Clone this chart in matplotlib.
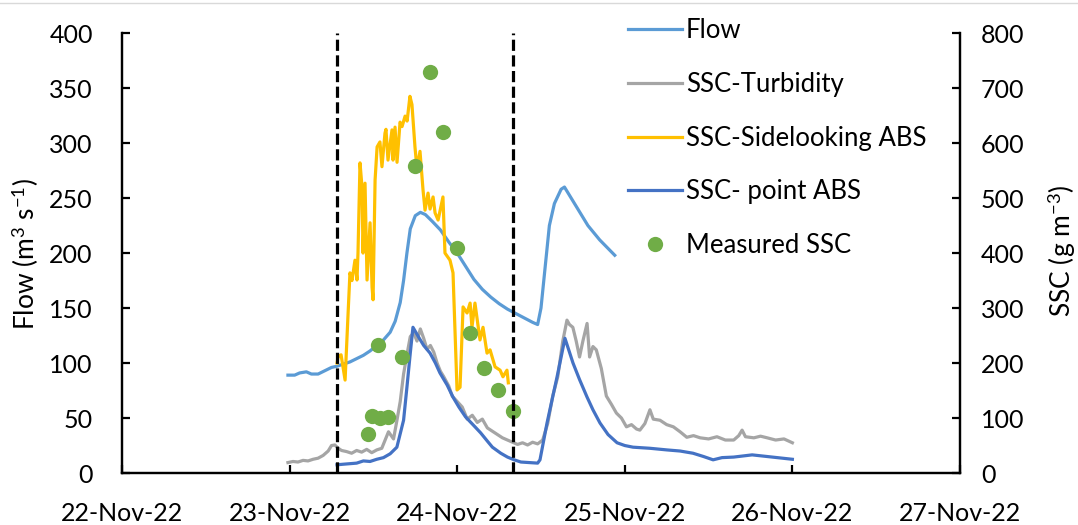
import matplotlib.pyplot as plt
from matplotlib.lines import Line2D

plt.rcParams['font.family'] = ['Lato', 'DejaVu Sans']
plt.rcParams['mathtext.fontset'] = 'custom'
plt.rcParams['mathtext.rm'] = 'Lato'
plt.rcParams['mathtext.it'] = 'Lato:italic'
plt.rcParams['mathtext.bf'] = 'Lato:bold'

# time axis in days of November 2022
flow_t = [22.99, 23.03, 23.06, 23.10, 23.13, 23.17, 23.21, 23.25, 23.28, 23.32, 23.36, 23.40,
          23.44, 23.48, 23.52, 23.56, 23.60, 23.63, 23.66, 23.68, 23.70, 23.72, 23.75, 23.78,
          23.81, 23.85, 23.90, 23.95, 24.00, 24.05, 24.10, 24.15, 24.20, 24.25, 24.30, 24.35,
          24.40, 24.45, 24.48, 24.50, 24.52, 24.55, 24.58, 24.62, 24.64, 24.68, 24.72, 24.78,
          24.85, 24.94]
flow = [89, 89, 91, 92, 90, 90, 93, 96, 97, 99, 101, 104,
        107, 111, 116, 121, 128, 138, 155, 175, 200, 222, 234, 237,
        235, 229, 221, 210, 200, 188, 176, 167, 160, 154, 149, 145,
        141, 137, 135, 150, 180, 225, 245, 258, 260, 250, 240, 225,
        212, 198]

turb_t = [22.99, 23.02, 23.05, 23.08, 23.11, 23.14, 23.17, 23.20, 23.23, 23.25, 23.27, 23.29,
          23.31, 23.34, 23.37, 23.40, 23.43, 23.46, 23.49, 23.52, 23.55, 23.57, 23.59, 23.62,
          23.64, 23.66, 23.68, 23.70, 23.72, 23.74, 23.76, 23.78, 23.80, 23.82, 23.84, 23.86,
          23.88, 23.90, 23.92, 23.95, 23.97, 24.00, 24.03, 24.06, 24.09, 24.12, 24.15, 24.18,
          24.21, 24.24, 24.27, 24.30, 24.33, 24.36, 24.39, 24.42, 24.45, 24.48, 24.51, 24.54,
          24.57, 24.60, 24.63, 24.655, 24.67, 24.69, 24.71, 24.73, 24.75, 24.775, 24.79, 24.81,
          24.83, 24.86, 24.89, 24.92, 24.95, 24.98, 25.01, 25.04, 25.07, 25.09, 25.12, 25.15,
          25.17, 25.21, 25.25, 25.29, 25.33, 25.37, 25.41, 25.45, 25.50, 25.55, 25.60, 25.65,
          25.68, 25.70, 25.72, 25.77, 25.81, 25.85, 25.90, 25.95, 26.00]
turb = [19, 21, 20, 23, 22, 25, 27, 32, 40, 50, 51, 45,
        41, 39, 36, 41, 38, 43, 37, 42, 45, 60, 75, 62,
        95, 130, 180, 215, 248, 255, 240, 262, 245, 225, 232, 220,
        200, 185, 175, 158, 140, 130, 120, 98, 105, 92, 98, 82,
        76, 70, 64, 60, 56, 52, 55, 51, 56, 53, 60, 90,
        140, 175, 240, 278, 270, 265, 240, 211, 240, 272, 211, 230,
        224, 190, 140, 125, 109, 100, 84, 88, 80, 78, 90, 115,
        98, 96, 88, 84, 75, 65, 68, 64, 62, 66, 60, 60,
        68, 78, 66, 64, 67, 64, 60, 62, 55]

side_t = [23.283, 23.289, 23.307, 23.331, 23.349, 23.360, 23.372, 23.390, 23.402, 23.408,
          23.420, 23.432, 23.438, 23.450, 23.462, 23.480, 23.492, 23.498, 23.510, 23.522,
          23.539, 23.551, 23.569, 23.575, 23.587, 23.611, 23.617, 23.629, 23.641, 23.659,
          23.671, 23.689, 23.701, 23.718, 23.730, 23.748, 23.760, 23.778, 23.796, 23.808,
          23.826, 23.838, 23.856, 23.868, 23.886, 23.915, 23.927, 23.957, 23.975, 23.999,
          24.017, 24.035, 24.059, 24.077, 24.088, 24.106, 24.136, 24.154, 24.178, 24.196,
          24.226, 24.256, 24.273, 24.297, 24.305]
side = [200, 211, 215, 169, 291, 364, 350, 387, 351, 400,
        564, 520, 400, 527, 351, 455, 338, 315, 533, 593,
        602, 557, 618, 625, 569, 624, 569, 629, 565, 638,
        630, 649, 640, 685, 670, 593, 553, 585, 515, 478,
        509, 480, 502, 473, 460, 502, 400, 387, 364, 151,
        156, 302, 291, 309, 265, 309, 242, 265, 218, 224,
        193, 187, 175, 187, 164]

point_t = [23.283, 23.32, 23.36, 23.40, 23.44, 23.48, 23.52, 23.56, 23.60, 23.64, 23.68, 23.70,
           23.72, 23.736, 23.77, 23.80, 23.838, 23.87, 23.897, 23.94, 23.975, 24.01, 24.05,
           24.10, 24.14, 24.18, 24.21, 24.26, 24.30, 24.34, 24.38, 24.43, 24.48, 24.494, 24.536,
           24.596, 24.643, 24.691, 24.73, 24.775, 24.81, 24.852, 24.90, 24.954, 25.00, 25.049,
           25.15, 25.252, 25.33, 25.407, 25.47, 25.527, 25.58, 25.65, 25.76, 25.88, 26.00]
point = [15, 16, 17, 18, 22, 21, 25, 28, 35, 47, 96, 156,
         218, 265, 247, 232, 218, 200, 182, 160, 138, 120, 102,
         86, 73, 58, 47, 36, 29, 24, 20, 19, 18, 24, 91,
         175, 245, 200, 170, 138, 115, 91, 70, 55, 50, 47,
         45, 42, 40, 36, 30, 24, 28, 29, 33, 29, 25]

meas_t = [23.468, 23.492, 23.528, 23.539, 23.587, 23.671, 23.748, 23.838, 23.915, 23.999,
          24.077, 24.160, 24.244, 24.333]
meas = [71, 104, 233, 100, 102, 211, 558, 729, 620, 409, 255, 191, 151, 113]

event_bounds = [23.283, 24.333]
days = [22, 23, 24, 25, 26, 27]
day_labels = ['22-Nov-22', '23-Nov-22', '24-Nov-22', '25-Nov-22', '26-Nov-22', '27-Nov-22']

fig = plt.figure(figsize=(10.78, 5.25), dpi=100)
ax1 = fig.add_axes([0.1132, 0.099, 0.7773, 0.838])
ax2 = ax1.twinx()

l_flow, = ax1.plot(flow_t, flow, color='#5B9BD5', lw=2.3, label='Flow')
l_turb, = ax2.plot(turb_t, turb, color='#A5A5A5', lw=2.3, label='SSC-Turbidity')
l_side, = ax2.plot(side_t, side, color='#FFC000', lw=2.3, label='SSC-Sidelooking ABS')
l_point, = ax2.plot(point_t, point, color='#4472C4', lw=2.3, label='SSC- point ABS')
l_meas, = ax2.plot(meas_t, meas, 'o', color='#70AD47', ms=11, mec='none', label='Measured SSC')
for b in event_bounds:
    ax2.axvline(b, color='black', ls=(0, (3.5, 1.4)), lw=2.3, zorder=5)

ax1.set_xlim(22, 27)
ax1.set_ylim(0, 400)
ax2.set_ylim(0, 800)
ax1.set_xticks(days)
ax1.set_xticklabels(day_labels)
ax1.set_yticks(range(0, 401, 50))
ax2.set_yticks(range(0, 801, 100))

for ax in (ax1, ax2):
    ax.spines['top'].set_visible(False)
    for s in ax.spines.values():
        s.set_linewidth(1.6)
    ax.tick_params(width=1.6, length=6, direction='in', colors='black', labelsize=18)
ax1.tick_params(axis='x', pad=21)
ax1.tick_params(axis='y', pad=21)
ax2.tick_params(axis='y', pad=15)

fig.text(25 / 1078, 1 - 254 / 525, 'Flow (m$^3$ s$^{-1}$)', rotation=90,
         ha='center', va='center', fontsize=19)
fig.text(1062 / 1078, 1 - 251 / 525, 'SSC (g m$^{-3}$)', rotation=90,
         ha='center', va='center', fontsize=19)

ax2.legend(handles=[l_flow, l_turb, l_side, l_point, l_meas], loc='upper left',
           bbox_to_anchor=(628 / 1078, 1 - 18 / 525), bbox_transform=fig.transFigure,
           frameon=False, fontsize=18.5, handlelength=2.1, handletextpad=0.16,
           labelspacing=1.12, borderpad=0, borderaxespad=0)

fig.add_artist(Line2D([0, 1], [0.995, 0.995], color='#D9D9D9', lw=1))

fig.savefig('out.png', dpi=100)
